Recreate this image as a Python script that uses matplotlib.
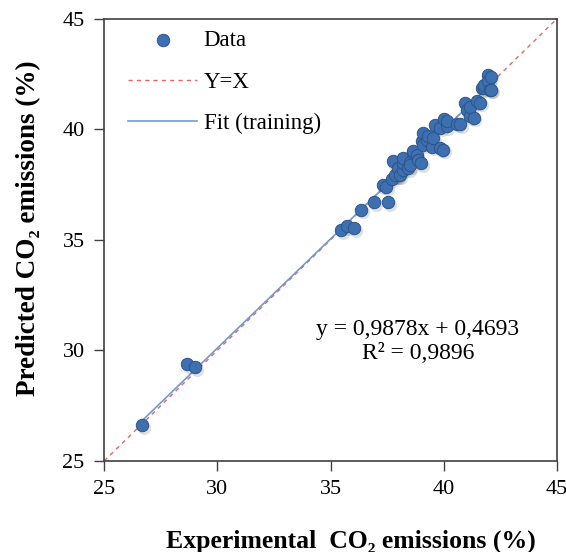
import numpy as np
import matplotlib
matplotlib.use("Agg")
import matplotlib.pyplot as plt

plt.rcParams['font.family'] = ['Liberation Serif', 'DejaVu Serif']

# experimental vs predicted CO2 emissions (%)
exp_co2 = [26.66, 28.65, 29.03, 35.45, 35.74, 36.04, 36.36, 36.92, 37.55, 37.30,
           37.46, 37.74, 37.95, 37.70, 37.85, 37.99, 38.05, 38.18, 38.21, 38.21,
           38.43, 38.51, 38.50, 38.66, 38.66, 38.80, 38.88, 39.00, 39.03, 39.08,
           39.10, 39.25, 39.32, 39.47, 39.54, 39.61, 39.83, 39.83, 39.98, 40.01,
           40.13, 40.13, 40.60, 40.73, 40.94, 41.01, 41.16, 41.16, 41.32, 41.48,
           41.62, 41.67, 41.77, 41.80, 41.97, 41.97, 42.04, 42.07, 42.10]
pred_co2 = [26.63, 29.39, 29.24, 35.45, 35.63, 35.53, 36.36, 36.71, 36.71, 37.46,
            37.40, 38.57, 37.94, 37.76, 37.94, 38.24, 37.94, 38.17, 38.47, 38.70,
            38.24, 38.54, 38.39, 38.92, 39.00, 38.85, 38.62, 38.47, 39.45, 39.31,
            39.83, 39.52, 39.69, 39.22, 39.60, 40.20, 39.15, 40.07, 39.08, 40.46,
            40.13, 40.38, 40.25, 40.22, 41.19, 40.88, 40.58, 41.00, 40.53, 41.26,
            41.21, 41.86, 41.87, 42.00, 42.47, 42.17, 41.79, 42.38, 41.80]

slope = 0.9878
intercept = 0.4693
r2 = 0.9896

x_ticks = [25, 30, 35, 40, 45]

fig = plt.figure(figsize=(5.66, 5.52), dpi=100)
ax = fig.add_axes([0.184, 0.165, 0.800, 0.801])

xx = np.array([25, 45])
ax.plot(xx, xx, ls=(0, (3, 3)), color='#E06666', lw=1.0, label='Y=X', zorder=2)
xf = np.array([min(exp_co2), max(exp_co2)])
ax.plot(xf, slope * xf + intercept, color='#7399CF', lw=1.2, label='Fit (training)', zorder=2)

# soft shadow then markers
ax.scatter(np.array(exp_co2) + 0.08, np.array(pred_co2) - 0.12, s=90, color='#000000',
           alpha=0.12, lw=0, zorder=3)
ax.scatter(exp_co2, pred_co2, s=80, color='#3E6FB0', edgecolor='#2B5689', lw=0.7,
           label='Data', zorder=4)

ax.text(38.86, 30.93, 'y = 0,9878x + 0,4693', ha='center', va='center', fontsize=17)
ax.text(38.86, 29.85, 'R² = 0,9896', ha='center', va='center', fontsize=17)

ax.set_xlim(25, 45)
ax.set_ylim(25, 45)
ax.set_xticks(x_ticks)
ax.set_yticks(x_ticks)
ax.tick_params(direction='out', length=7, width=1.0, color='#404040',
               labelsize=16, pad=7, top=False, right=False)
for s in ax.spines.values():
    s.set_color('#404040')
    s.set_linewidth(1.2)

ax.set_xlabel('Experimental  CO₂ emissions (%)', fontsize=18.5, fontweight='bold')
ax.set_ylabel('Predicted CO₂ emissions (%)', fontsize=19.5, fontweight='bold')
ax.xaxis.set_label_coords(0.545, -0.155)
ax.yaxis.set_label_coords(-0.14, 0.527)

h, l = ax.get_legend_handles_labels()
order = [l.index('Data'), l.index('Y=X'), l.index('Fit (training)')]
ax.legend([h[i] for i in order], [l[i] for i in order], loc='upper left', frameon=False,
          fontsize=16.5, handlelength=3.0, handletextpad=0.3, labelspacing=0.9,
          borderpad=0, borderaxespad=0, bbox_to_anchor=(0.053, 0.975))

fig.savefig('out.png', dpi=100)
